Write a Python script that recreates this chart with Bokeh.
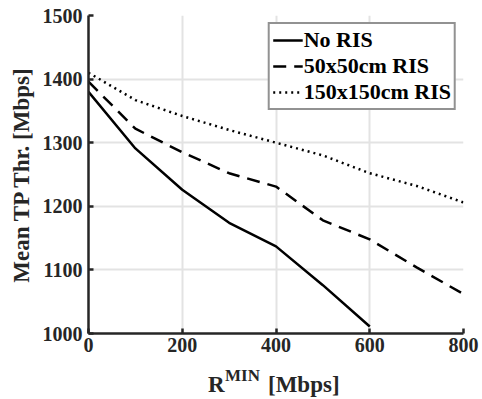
from bokeh.plotting import figure
from bokeh.layouts import column
from bokeh.models import Range1d, FixedTicker, Legend, LegendItem, Label
from bokeh.embed import file_html
from bokeh.resources import INLINE

x_no = [0, 100, 200, 300, 400, 500, 600]
y_no = [1380, 1291, 1226, 1174, 1137, 1076, 1011]
x_50 = [0, 100, 200, 300, 400, 500, 600, 700, 800]
y_50 = [1396, 1322, 1285, 1252, 1231, 1178, 1148, 1104, 1062]
x_150 = [0, 100, 200, 300, 400, 500, 600, 700, 800]
y_150 = [1410, 1367, 1342, 1320, 1300, 1280, 1252, 1232, 1206]
x_ticks = [0, 200, 400, 600, 800]
y_ticks = [1000, 1100, 1200, 1300, 1400, 1500]

FONT = "Liberation Serif"
DARK = "#262626"

xr = Range1d(0, 800)
p = figure(width=482, height=366, output_backend="svg", toolbar_location=None,
           x_range=xr, y_range=Range1d(1000, 1500),
           min_border_left=88, min_border_right=19, min_border_top=15, min_border_bottom=33)
p.outline_line_color = None
p.background_fill_color = "white"
p.border_fill_color = "white"

for ax in (p.xaxis[0], p.yaxis[0]):
    ax.axis_line_color = DARK
    ax.axis_line_width = 2.5
    ax.major_tick_line_color = DARK
    ax.major_tick_line_width = 2.5
    ax.major_tick_in = 5
    ax.major_tick_out = 0
    ax.minor_tick_line_color = None
    ax.major_label_text_font = FONT
    ax.major_label_text_font_style = "bold"
    ax.major_label_text_font_size = "20px"
    ax.major_label_text_color = DARK
    ax.axis_label_text_font = FONT
    ax.axis_label_text_font_style = "bold"
    ax.axis_label_text_font_size = "23px"
    ax.axis_label_text_color = DARK

p.xaxis.ticker = FixedTicker(ticks=x_ticks)
p.yaxis.ticker = FixedTicker(ticks=y_ticks)
p.yaxis.axis_label = "Mean TP Thr. [Mbps]"
p.yaxis.axis_label_standoff = 6
p.xaxis.major_label_standoff = 4
p.yaxis.major_label_standoff = 6

p.grid.grid_line_color = "#e3e3e3"
p.grid.grid_line_width = 2

r1 = p.line(x_no, y_no, line_color="black", line_width=2.5)
r2 = p.line(x_50, y_50, line_color="black", line_width=2.5, line_dash="13 8")
r3 = p.line(x_150, y_150, line_color="black", line_width=2.5, line_dash="2 4")

legend = Legend(items=[LegendItem(label="No RIS", renderers=[r1]),
                       LegendItem(label="50x50cm RIS", renderers=[r2]),
                       LegendItem(label="150x150cm RIS", renderers=[r3])],
                location="top_right")
legend.label_text_font = FONT
legend.label_text_font_style = "bold"
legend.label_text_font_size = "22px"
legend.label_text_color = "black"
legend.border_line_color = DARK
legend.border_line_width = 2.5
legend.background_fill_alpha = 1
legend.glyph_width = 30
legend.glyph_height = 24
legend.label_height = 24
legend.spacing = 0
legend.padding = 3
legend.margin = 7
legend.label_standoff = 1
p.add_layout(legend)

# strip below the chart carrying the x-axis title with its superscript
q = figure(width=482, height=33, output_backend="svg", toolbar_location=None,
           x_range=xr, y_range=Range1d(0, 33),
           x_axis_location=None, y_axis_location=None,
           min_border_left=88, min_border_right=19, min_border_top=0, min_border_bottom=0)
q.grid.visible = False
q.outline_line_color = None
q.border_fill_color = "white"
q.background_fill_color = "white"
q.add_layout(Label(x=400, y=15, text="R", x_offset=-68,
                   text_font=FONT, text_font_style="bold", text_font_size="23px",
                   text_color=DARK, text_align="left", text_baseline="alphabetic"))
q.add_layout(Label(x=400, y=24, text="MIN", x_offset=-51,
                   text_font=FONT, text_font_style="bold", text_font_size="17px",
                   text_color=DARK, text_align="left", text_baseline="alphabetic"))
q.add_layout(Label(x=400, y=15, text="[Mbps]", x_offset=-8,
                   text_font=FONT, text_font_style="bold", text_font_size="23px",
                   text_color=DARK, text_align="left", text_baseline="alphabetic"))

layout = column(p, q, spacing=0)
open("out.html", "w").write(file_html(layout, INLINE))
